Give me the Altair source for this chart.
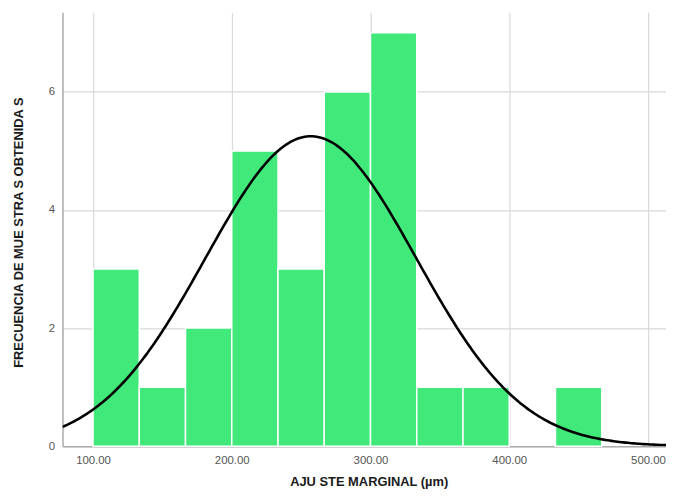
import altair as alt
import pandas as pd
import numpy as np

bin_start = [100.0, 133.33, 166.67, 200.0, 233.33, 266.67, 300.0, 333.33, 366.67, 400.0, 433.33]
bin_end = [133.33, 166.67, 200.0, 233.33, 266.67, 300.0, 333.33, 366.67, 400.0, 433.33, 466.67]
counts = [3, 1, 2, 5, 3, 6, 7, 1, 1, 0, 1]

fit_mean = 257.0
fit_sd = 76.0
n_total = 30
bin_width = 33.33

x_ticks = [100, 200, 300, 400, 500]
y_ticks = [0, 2, 4, 6]

bars = pd.DataFrame({"x0": bin_start, "x1": bin_end, "count": counts})
bars = bars[bars["count"] > 0]

xs = np.linspace(78, 513, 300)
curve = pd.DataFrame({
    "x": xs,
    "y": n_total * bin_width / (fit_sd * np.sqrt(2 * np.pi)) * np.exp(-0.5 * ((xs - fit_mean) / fit_sd) ** 2),
})

xscale = alt.Scale(domain=[78, 513], nice=False, zero=False)
yscale = alt.Scale(domain=[0, 7.35], nice=False)

font = "Liberation Sans"

bar_layer = alt.Chart(bars).mark_rect(color="#41E97B", stroke="white", strokeWidth=1.5).encode(
    x=alt.X("x0:Q", scale=xscale,
            axis=alt.Axis(values=x_ticks, format=".2f", title="AJU STE MARGINAL (µm)",
                          grid=True, ticks=False, labelPadding=8,
                          titleX=309, titleY=43, titleBaseline="bottom")),
    x2="x1:Q",
    y=alt.Y("count:Q", scale=yscale,
            axis=alt.Axis(values=y_ticks, format="d", title="FRECUENCIA DE MUE STRA S OBTENIDA S",
                          grid=True, ticks=False, labelPadding=8,
                          titleX=-44, titleY=222, titleBaseline="middle")),
    y2=alt.datum(0),
)

line_layer = alt.Chart(curve).mark_line(color="black", strokeWidth=2.6, clip=True).encode(
    x=alt.X("x:Q", scale=xscale),
    y=alt.Y("y:Q", scale=yscale),
)

chart = alt.layer(bar_layer, line_layer).properties(
    width=609, height=438,
    autosize=alt.AutoSizeParams(type="none"),
    padding={"left": 55, "top": 2, "right": 0, "bottom": 44},
).configure_view(stroke=None).configure_axis(
    labelFont=font, labelFontSize=11.5, labelColor="#555555",
    titleFont=font, titleFontSize=13, titleFontWeight="bold", titleColor="#1a1a1a",
    gridColor="#d9d9d9", gridWidth=1.2,
    domainColor="#aaaaaa", domainWidth=1.5,
)

chart.save("out.html", embed_options={"renderer": "svg", "actions": False})
